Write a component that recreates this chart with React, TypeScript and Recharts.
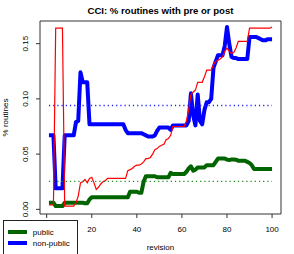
import { LineChart, Line, XAxis, YAxis, ReferenceLine, ReferenceArea, Legend } from "recharts";

// revision numbers 1..100
const revisions = Array.from({ length: 100 }, (_, i) => i + 1);

const publicPct = [
	0.006, 0.006, 0.006, 0.003, 0.003, 0.003, 0.003, 0.006, 0.006, 0.006,
	0.006, 0.006, 0.006, 0.006, 0.006, 0.006, 0.0055, 0.0055, 0.009, 0.011,
	0.011, 0.011, 0.011, 0.011, 0.011, 0.011, 0.011, 0.011, 0.011, 0.011,
	0.011, 0.011, 0.011, 0.011, 0.011, 0.011, 0.016, 0.016, 0.016, 0.016,
	0.015, 0.015, 0.025, 0.03, 0.03, 0.03, 0.03, 0.03, 0.029, 0.029,
	0.029, 0.029, 0.029, 0.029, 0.033, 0.032, 0.032, 0.032, 0.032, 0.032,
	0.032, 0.034, 0.037, 0.039, 0.035, 0.036, 0.038, 0.038, 0.038, 0.038,
	0.04, 0.04, 0.04, 0.04, 0.043, 0.046, 0.046, 0.046, 0.046, 0.045,
	0.0446, 0.0452, 0.0452, 0.045, 0.044, 0.044, 0.044, 0.044, 0.043, 0.042,
	0.04, 0.0365, 0.0365, 0.0365, 0.0365, 0.0365, 0.0365, 0.0365, 0.0365, 0.0365,
];

const nonPublicPct = [
	0.067, 0.067, 0.067, 0.019, 0.019, 0.019, 0.019, 0.067, 0.067, 0.067,
	0.067, 0.067, 0.079, 0.08, 0.124, 0.115, 0.115, 0.115, 0.077, 0.077,
	0.077, 0.077, 0.077, 0.077, 0.077, 0.077, 0.077, 0.077, 0.077, 0.077,
	0.077, 0.077, 0.077, 0.077, 0.072, 0.069, 0.069, 0.069, 0.069, 0.069,
	0.069, 0.069, 0.068, 0.067, 0.066, 0.066, 0.066, 0.067, 0.071, 0.074,
	0.074, 0.074, 0.074, 0.074, 0.072, 0.076, 0.076, 0.076, 0.076, 0.076,
	0.076, 0.076, 0.08, 0.105, 0.085, 0.076, 0.104, 0.08, 0.077, 0.09,
	0.097, 0.097, 0.1, 0.128, 0.134, 0.1395, 0.1395, 0.1395, 0.148, 0.165,
	0.15, 0.138, 0.137, 0.137, 0.136, 0.136, 0.136, 0.136, 0.136, 0.156,
	0.156, 0.156, 0.156, 0.155, 0.154, 0.153, 0.153, 0.154, 0.154, 0.154,
];

// red line, not in the legend
const allPct = [
	0.004, 0.004, 0.004, 0.164, 0.164, 0.164, 0.164, 0.003, 0.003, 0.003,
	0.003, 0.003, 0.006, 0.012, 0.024, 0.025, 0.027, 0.024, 0.028, 0.029,
	0.024, 0.018, 0.02, 0.023, 0.025, 0.026, 0.028, 0.028, 0.028, 0.028,
	0.028, 0.028, 0.028, 0.028, 0.028, 0.035, 0.036, 0.037, 0.039, 0.04,
	0.04, 0.041, 0.043, 0.046, 0.046, 0.047, 0.05, 0.054, 0.055, 0.057,
	0.058, 0.059, 0.063, 0.064, 0.067, 0.075, 0.075, 0.075, 0.075, 0.075,
	0.075, 0.08, 0.09, 0.104, 0.106, 0.108, 0.115, 0.115, 0.115, 0.12,
	0.126, 0.126, 0.126, 0.131, 0.134, 0.135, 0.136, 0.138, 0.143, 0.146,
	0.143, 0.141, 0.142, 0.146, 0.152, 0.152, 0.152, 0.152, 0.152, 0.164,
	0.164, 0.164, 0.164, 0.164, 0.164, 0.164, 0.164, 0.164, 0.164, 0.165,
];

const publicMean = 0.0253;
const nonPublicMean = 0.094;

const legendOrder = ["public", "non-public"];
const xTicks = [0, 20, 40, 60, 80, 100];
const yTicks = [0, 0.05, 0.1, 0.15];

const xDomain = [-2.96, 103.96];
const yDomain = [-0.0042, 0.1705];

const data = revisions.map((r, i) => ({
	revision: r,
	public: publicPct[i],
	nonPublic: nonPublicPct[i],
	all: allPct[i],
}));

const FONT = "'Liberation Sans', Arial, Helvetica, sans-serif";

function XTick({ x, y, payload }: any) {
	// the "0" label sits under the legend box in the original
	if (payload.value === 0) return <g />;
	return (
		<text x={x} y={y + 12} textAnchor="middle" fontSize={8} fontFamily={FONT} fill="#000">
			{payload.value}
		</text>
	);
}

function YTick({ x, y, payload }: any) {
	const tx = x - 5.5;
	return (
		<text x={tx} y={y} transform={`rotate(-90, ${tx}, ${y})`} textAnchor="middle" fontSize={8} fontFamily={FONT} fill="#000">
			{Number(payload.value).toFixed(2)}
		</text>
	);
}

function LegendBox({ payload }: any) {
	const items = legendOrder
		.map((name) => (payload || []).find((p: any) => p.value === name))
		.filter(Boolean);
	return (
		<div
			style={{
				width: 75,
				height: 50,
				boxSizing: "border-box",
				border: "1px solid #222",
				background: "#fff",
				paddingTop: 5.5,
				fontFamily: FONT,
				fontSize: 8,
			}}
		>
			{items.map((p: any) => (
				<div key={p.value} style={{ height: 11, display: "flex", alignItems: "center" }}>
					<span style={{ display: "inline-block", width: 18.5, height: 3.5, marginLeft: 4.3, background: p.color }} />
					<span style={{ marginLeft: 6, color: "#000" }}>{p.value}</span>
				</div>
			))}
		</div>
	);
}

export default function App() {
	return (
		<div style={{ position: "absolute", left: 0, top: 0, width: 294, height: 254, overflow: "hidden", background: "#fff" }}>
			<LineChart width={294} height={254} data={data} margin={{ top: 21, right: 13, left: 0, bottom: 0 }}>
				<XAxis
					dataKey="revision"
					type="number"
					domain={xDomain}
					ticks={xTicks}
					height={40}
					axisLine={false}
					tickSize={4}
					tickLine={{ stroke: "#333" }}
					tick={<XTick />}
					allowDataOverflow
				/>
				<YAxis
					type="number"
					domain={yDomain}
					ticks={yTicks}
					width={40}
					axisLine={false}
					tickSize={4}
					tickLine={{ stroke: "#333" }}
					tick={<YTick />}
					allowDataOverflow
				/>
				<ReferenceArea x1={xDomain[0]} x2={xDomain[1]} y1={yDomain[0]} y2={yDomain[1]} fill="none" stroke="#333" strokeWidth={1} ifOverflow="visible" />
				<Line dataKey="public" name="public" type="linear" stroke="#006400" strokeWidth={4} dot={false} isAnimationActive={false} strokeLinejoin="round" />
				<Line dataKey="nonPublic" name="non-public" type="linear" stroke="#0000ff" strokeWidth={4} dot={false} isAnimationActive={false} strokeLinejoin="round" />
				<Line dataKey="all" name="all" type="linear" stroke="#ff0000" strokeWidth={1.2} dot={false} isAnimationActive={false} legendType="none" />
				<ReferenceLine segment={[{ x: 1, y: nonPublicMean }, { x: 100, y: nonPublicMean }]} stroke="#2020ff" strokeOpacity={1} strokeDasharray="1.2 3" strokeWidth={1.3} />
				<ReferenceLine segment={[{ x: 1, y: publicMean }, { x: 100, y: publicMean }]} stroke="#1a8a1a" strokeOpacity={1} strokeDasharray="1.2 3" strokeWidth={1.3} />
				<Legend
					layout="vertical"
					align="center"
					verticalAlign="middle"
					wrapperStyle={{ left: 3, top: 220, width: 75 }}
					content={<LegendBox />}
				/>
				<text x={160.5} y={14} textAnchor="middle" fontSize={9.6} fontWeight="bold" fontFamily={FONT} fill="#000">
					CCI: % routines with pre or post
				</text>
				<text x={160.5} y={250} textAnchor="middle" fontSize={8} fontFamily={FONT} fill="#000">
					revision
				</text>
				<text transform="rotate(-90)" x={-117.5} y={8} textAnchor="middle" fontSize={8} fontFamily={FONT} fill="#000">
					% routines
				</text>
			</LineChart>
		</div>
	);
}
